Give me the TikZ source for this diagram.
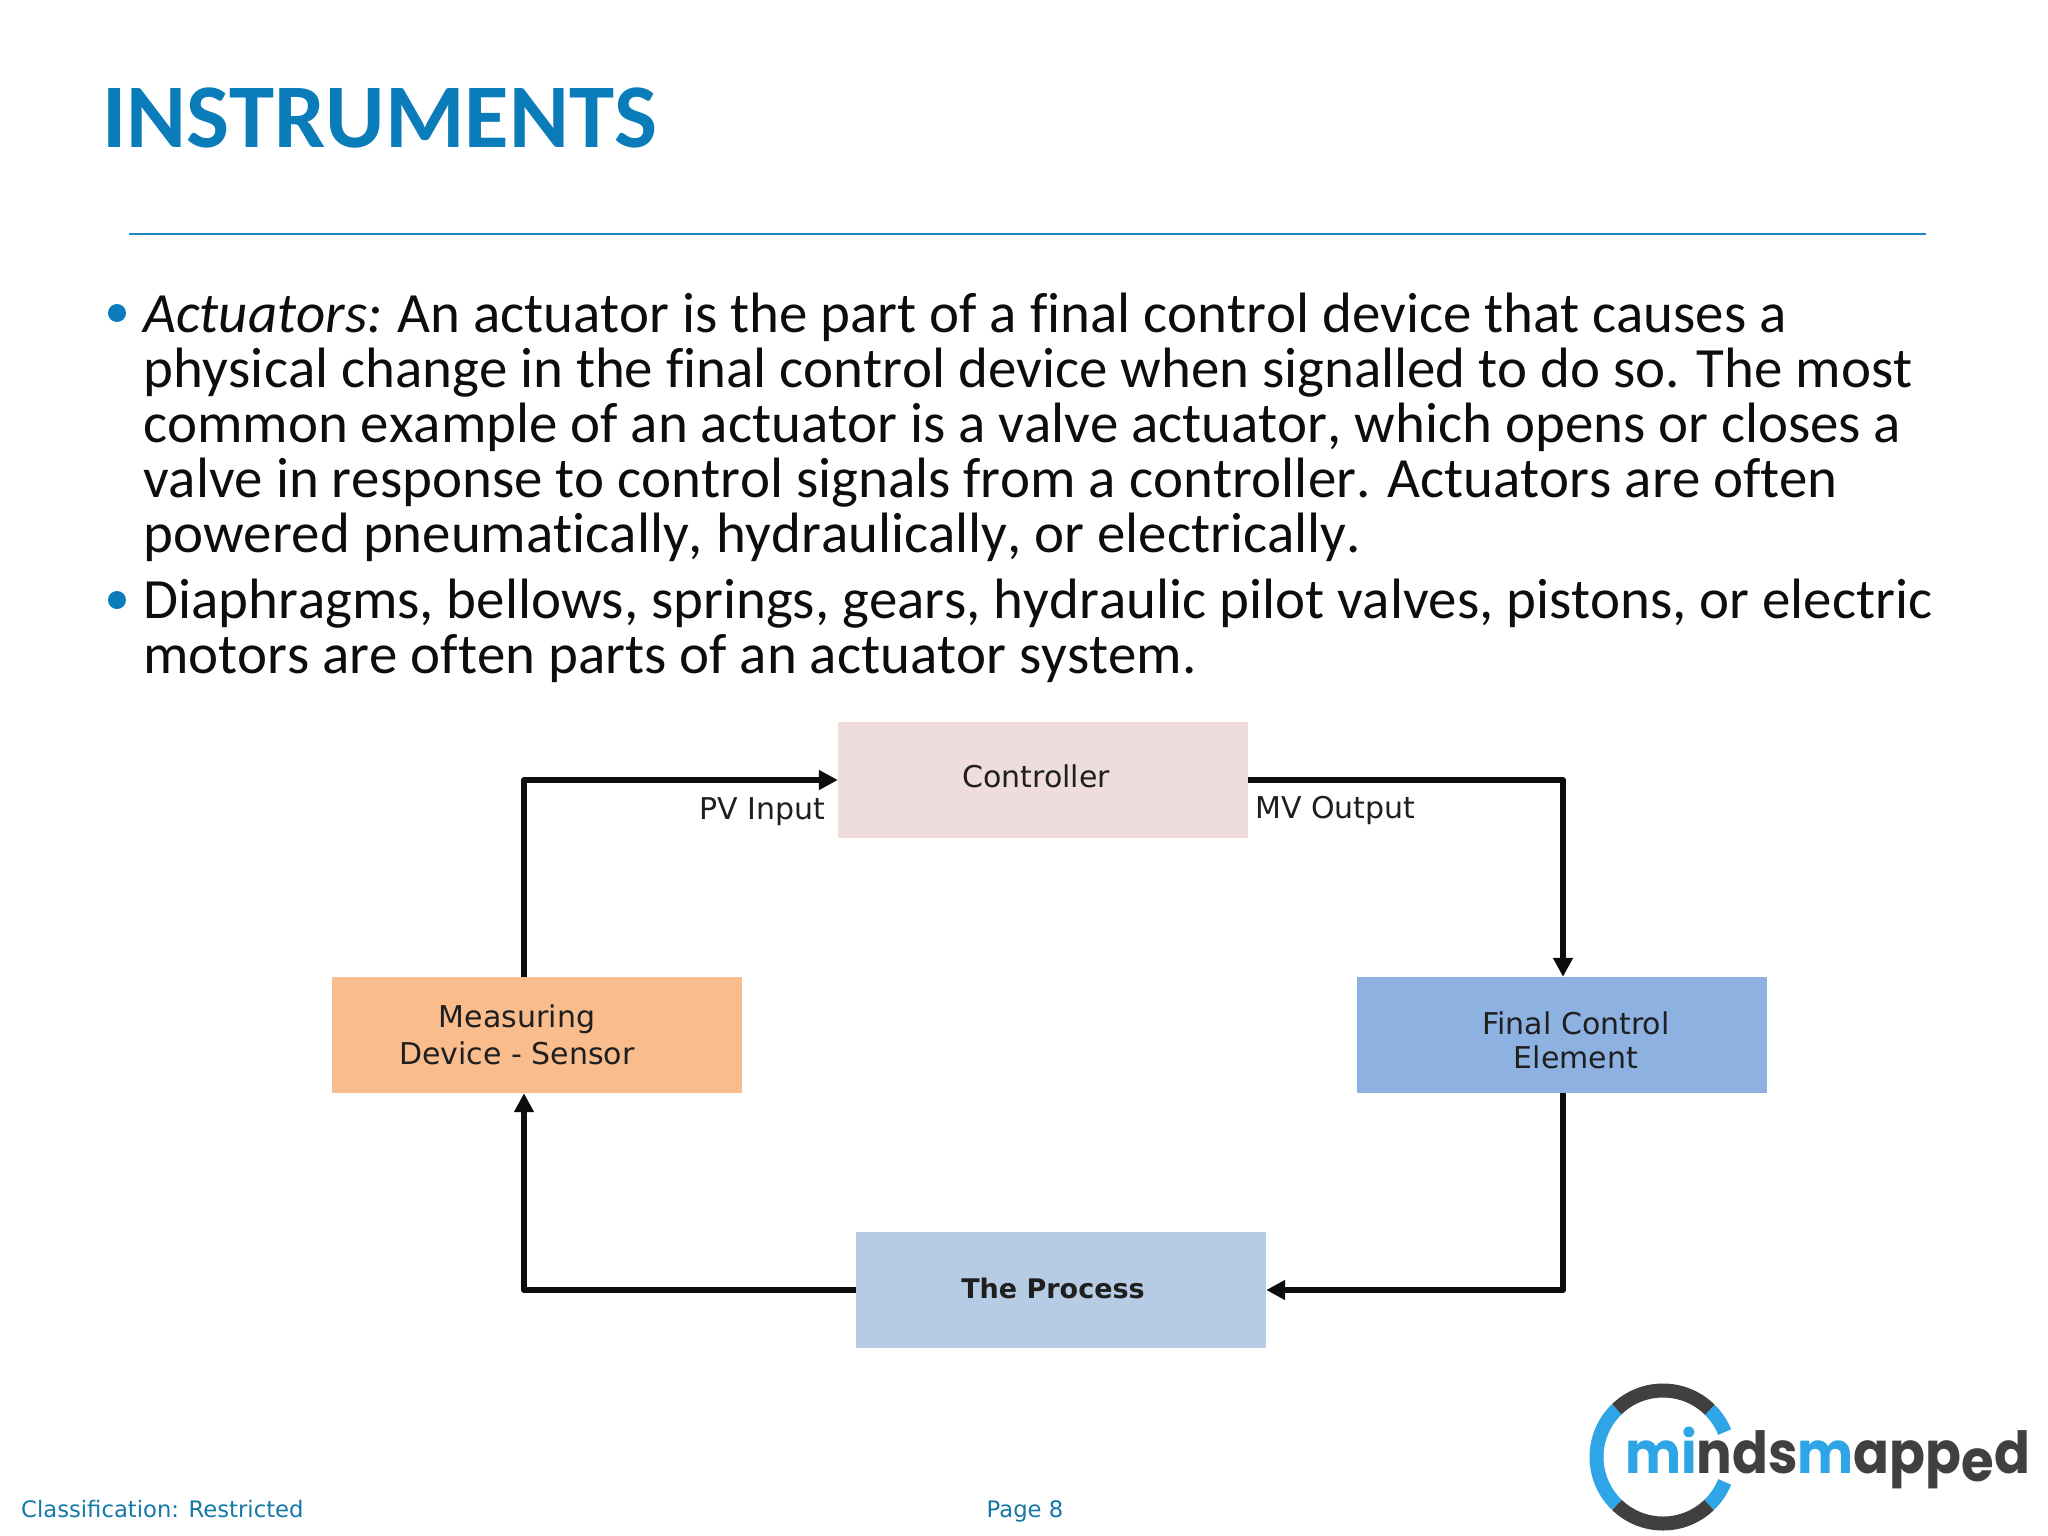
\documentclass[tikz,border=0pt]{standalone}
\usepackage{fontspec}
\usepackage{graphicx}
\setmainfont[Ligatures=NoCommon,Kerning=Off]{Carlito}
\newfontfamily\djv{DejaVu Sans}
\newfontfamily\pop{Poppins}
\usetikzlibrary{arrows.meta}
\definecolor{titleblue}{HTML}{0A7CBA}
\definecolor{rulec}{HTML}{1F88C4}
\definecolor{footc}{HTML}{1478A8}
\definecolor{ctrlc}{HTML}{EFDCDC}
\definecolor{measc}{HTML}{F9BC8C}
\definecolor{finalc}{HTML}{8DB2E2}
\definecolor{procc}{HTML}{B6CCE4}
\definecolor{ringb}{HTML}{2EA5E6}
\definecolor{ringd}{HTML}{404040}
\tikzset{
  bodyline/.style={anchor=base west,inner sep=0pt,font=\fontsize{56.9}{56.9}\selectfont,text=black!95},
  bulletdot/.style={circle,fill=titleblue,inner sep=0pt,minimum size=18pt},
  boxnode/.style={inner sep=0pt,minimum width=410pt,minimum height=116pt},
  difont/.style={inner sep=0pt,font=\djv\fontsize{30}{30}\selectfont,text=black!88},
  conn/.style={line width=6pt,black!95,line join=round},
  tipped/.style={conn,-{Triangle[length=19pt,width=19pt]}},
  footer/.style={anchor=base west,inner sep=0pt,font=\djv\fontsize{22.7}{22.7}\selectfont,text=footc},
  ringarc/.style={line width=14pt}
}
\begin{document}
\begin{tikzpicture}[x=1pt,y=-1pt]
\useasboundingbox (0,0) rectangle (2048,1536);
\fill[white] (0,0) rectangle (2048,1536);
% title
\node[anchor=base west,inner sep=0pt,text=titleblue,font=\bfseries\fontsize{91}{91}\selectfont] (title) at (102,147) {INSTRUMENTS};
\coordinate (ruleL) at (129,233.5);
\coordinate (ruleR) at (1926,233.5);
\draw[rulec,line width=2pt] (ruleL) -- (ruleR);
% body
\node[bulletdot] (b1) at (117,313) {};
\node[bodyline] (l1) at (143,332) {\textit{Actuators:}\kern-2pt{} An actuator is the part of a final control device that causes a};
\node[bodyline] (l2) at (143,387) {physical change in the final control device when signalled to do so. The most};
\node[bodyline] (l3) at (143,442) {common example of an actuator is a valve actuator, which opens or closes a};
\node[bodyline] (l4) at (143,497) {valve in response to control signals from a controller. Actuators are often};
\node[bodyline] (l5) at (143,552) {powered pneumatically, hydraulically, or electrically.};
\node[bulletdot] (b2) at (117,600) {};
\node[bodyline] (l6) at (143,618) {Diaphragms, bellows, springs, gears, hydraulic pilot valves, pistons, or electric};
\node[bodyline] (l7) at (143,673) {motors are often parts of an actuator system.};
% diagram boxes
\node[boxnode,fill=ctrlc] (ctrl) at (1043,780) {};
\node[boxnode,fill=measc] (meas) at (536.5,1035) {};
\node[boxnode,fill=finalc] (final) at (1562,1035) {};
\node[boxnode,fill=procc] (proc) at (1061,1290) {};
\node[difont] (ctrlt) at (1036,776) {Controller};
\node[difont] (meast1) at (517,1019) {Measuring};
\node[difont] (meast2) at (517,1053) {Device - Sensor};
\node[difont] (finalt1) at (1576,1023) {Final Control};
\node[difont] (finalt2) at (1576,1057) {Element};
\node[difont,font=\djv\bfseries\fontsize{27}{27}\selectfont] (proct) at (1053,1288) {The Process};
\node[difont,anchor=base west] (pv) at (699,819) {PV Input};
\node[difont,anchor=base west] (mv) at (1255,818) {MV Output};
% connectors
\coordinate (lx) at (524,781);
\coordinate (rx) at (1563,781);
\draw[tipped] (meas.north -| lx) |- (ctrl.west);
\draw[tipped] (ctrl.east) -| (final.north -| rx);
\draw[tipped] (final.south -| rx) |- (proc.east);
\draw[tipped] (proc.west) -| (meas.south -| lx);
% logo
\coordinate (lc) at (1663,1457);
\draw[ringarc,ringd] (lc) ++(46:66.5) arc[start angle=46,end angle=134,radius=66.5];
\draw[ringarc,ringb] (lc) ++(134:66.5) arc[start angle=134,end angle=226,radius=66.5];
\draw[ringarc,ringd] (lc) ++(226:66.5) arc[start angle=226,end angle=315,radius=66.5];
\draw[ringarc,ringb] (lc) ++(315:66.5) arc[start angle=315,end angle=338,radius=66.5];
\draw[ringarc,ringb] (lc) ++(22:66.5) arc[start angle=22,end angle=46,radius=66.5];
\node[anchor=base west,inner sep=0pt,font=\pop\bfseries\fontsize{58}{58}\selectfont,text=ringd] (logo) at (1625,1473)
  {\scalebox{0.912}[1]{\textcolor{ringb}{mi}nds\textcolor{ringb}{m}app\raisebox{-8pt}{e}d}};
% footer
\node[footer] (fl) at (21,1517) {Classification: Restricted};
\node[footer] (fp) at (986.5,1517) {Page 8};
\end{tikzpicture}
\end{document}
